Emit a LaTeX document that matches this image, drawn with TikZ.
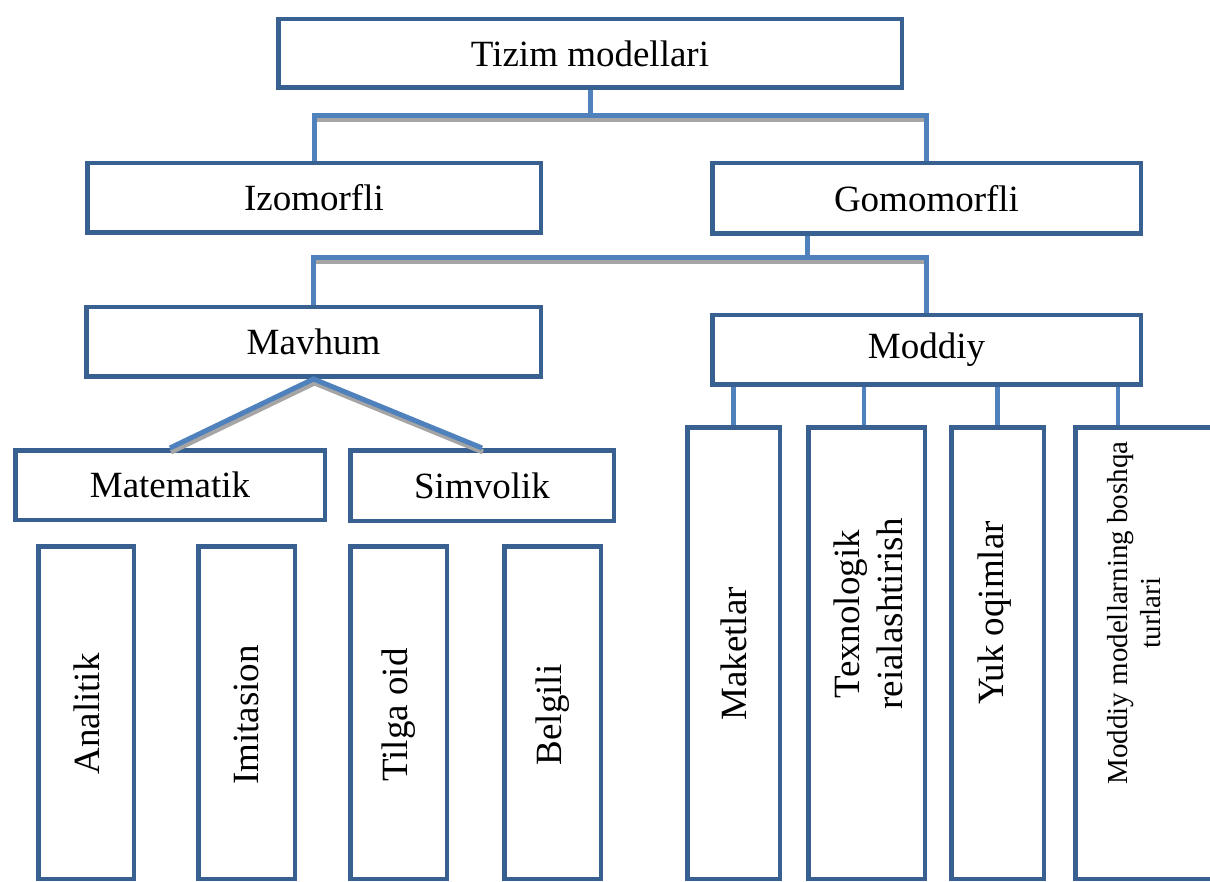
\documentclass[tikz,border=0pt]{standalone}
\usepackage{fontspec}
\setmainfont{Liberation Serif}
\definecolor{boxc}{RGB}{56,96,145}
\definecolor{connc}{RGB}{79,129,189}
\definecolor{shadc}{RGB}{165,165,165}
\begin{document}
\begin{tikzpicture}[x=1pt,y=-1pt,
  box/.style={draw=boxc, line width=4.5pt, fill=white, inner sep=0pt, font=\fontsize{37}{43}\selectfont},
  vlabel/.style={rotate=90, inner sep=0pt, align=center, font=\fontsize{37}{43}\selectfont},
  slabel/.style={rotate=90, inner sep=0pt, align=center, font=\fontsize{29}{33}\selectfont},
  conn/.style={draw=connc, line width=5pt},
  sconn/.style={draw=connc, line width=4.5pt},
  shadow/.style={draw=shadc, line width=5pt, transform canvas={shift={(1pt,-4pt)}}}]
\useasboundingbox (0,0) rectangle (1210,882);
\clip (0,0) rectangle (1210,882);
\fill[white] (0,0) rectangle (1210,882);

% coordinates of connector joints
\coordinate (j1) at (590,116);
\coordinate (j2) at (807,258);
\coordinate (c2) at (864,0);
\coordinate (c4) at (1118,0);

% boxes
\path
  node[box, minimum width=623.5pt, minimum height=68.5pt] (top)  at (590,53.5)   {Tizim modellari}
  node[box, minimum width=453.5pt, minimum height=69.5pt] (izo)  at (314,198)    {Izomorfli}
  node[box, minimum width=428.5pt, minimum height=70.5pt] (gomo) at (926.5,198.5){Gomomorfli}
  node[box, minimum width=454.5pt, minimum height=69.5pt] (mav)  at (313.5,342)  {Mavhum}
  node[box, minimum width=428.5pt, minimum height=69.5pt] (mod)  at (926.5,350)  {Moddiy}
  node[box, minimum width=309.5pt, minimum height=69.5pt] (mat)  at (170,485)    {Matematik}
  node[box, minimum width=263.5pt, minimum height=70.5pt] (sim)  at (482,485.5)  {Simvolik}
  node[box, minimum width=95.5pt,  minimum height=332.5pt] (ana) at (86,712.5)   {}
  node[box, minimum width=96.5pt,  minimum height=332.5pt] (imi) at (246.5,712.5){}
  node[box, minimum width=96.5pt,  minimum height=332.5pt] (til) at (398.5,712.5){}
  node[box, minimum width=96.5pt,  minimum height=332.5pt] (bel) at (552.5,712.5){}
  node[box, minimum width=92.5pt,  minimum height=451.5pt] (mak) at (733.5,653)  {}
  node[box, minimum width=116.5pt, minimum height=451.5pt] (tex) at (866.5,653)  {}
  node[box, minimum width=92.5pt,  minimum height=451.5pt] (yuk) at (997.5,653)  {}
  node[box, minimum width=142.5pt, minimum height=451.5pt] (bos) at (1146.5,653) {};

% shadows of connectors (horizontal and slanted parts)
\draw[shadow] (izo.north |- j1) -- (gomo.north |- j1);
\draw[shadow] (mav.north |- j2) -- (mod.north |- j2);
\draw[shadow] (mat.north) -- (mav.south) -- (sim.north);

% connectors
\draw[conn] (top.south) -- (j1);
\draw[conn] (izo.north) |- (j1) -| (gomo.north);
\draw[conn] (j2 |- gomo.south) -- (j2);
\draw[conn] (mav.north) |- (j2) -| (mod.north);
\draw[conn, line join=miter] (mat.north) -- (mav.south) -- (sim.north);
\draw[sconn] (mak.north) -- (mak.north |- mod.south);
\draw[sconn] (tex.north -| c2) -- (mod.south -| c2);
\draw[sconn] (yuk.north) -- (yuk.north |- mod.south);
\draw[sconn] (bos.north -| c4) -- (mod.south -| c4);

% vertical labels
\node[vlabel] (t-ana) at (87,714)  {Analitik};
\node[vlabel] (t-imi) at (246.5,715) {Imitasion};
\node[vlabel] (t-til) at (399,715) {Tilga oid};
\node[vlabel] (t-bel) at (553,715) {Belgili};
\node[vlabel] (t-mak) at (733.5,654) {Maketlar};
\node[vlabel] (t-tex) at (868,614) {Texnologik\\reialashtirish};
\node[vlabel] (t-yuk) at (995,613) {Yuk oqimlar};
\node[slabel] (t-bos) at (1134,613) {Moddiy modellarning boshqa\\turlari};
\end{tikzpicture}
\end{document}
